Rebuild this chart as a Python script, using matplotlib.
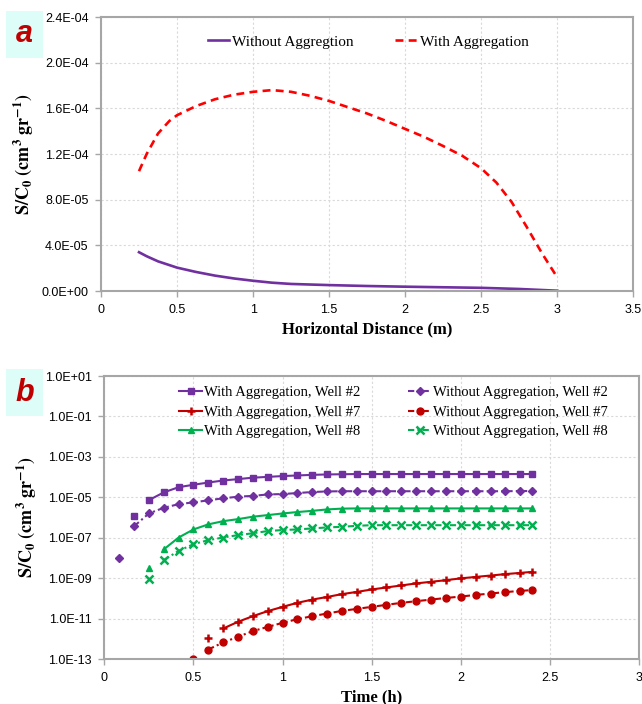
import matplotlib
matplotlib.use('Agg')
import matplotlib.pyplot as plt
from matplotlib.patches import FancyBboxPatch
import numpy as np

# ---- panel a data: S/C0 vs horizontal distance ----
dist_without = [0.25, 0.3, 0.375, 0.5, 0.625, 0.75, 0.875, 1.0, 1.125, 1.25, 1.5, 1.75,
                2.0, 2.25, 2.5, 2.75, 3.0]
sc_without = [3.4e-5, 3.05e-5, 2.6e-5, 2.05e-5, 1.67e-5, 1.35e-5, 1.1e-5, 9.0e-6,
              7.3e-6, 6.2e-6, 5.2e-6, 4.4e-6, 3.8e-6, 3.3e-6, 2.8e-6, 1.8e-6, 0.3e-6]
dist_with = [0.25, 0.3, 0.375, 0.45, 0.5, 0.625, 0.75, 0.875, 1.0, 1.125, 1.25, 1.375,
             1.5, 1.625, 1.75, 1.875, 2.0, 2.125, 2.25, 2.375, 2.5, 2.6, 2.7, 2.8, 2.9, 3.0]
sc_with = [1.05e-4, 1.2e-4, 1.38e-4, 1.49e-4, 1.54e-4, 1.62e-4, 1.68e-4, 1.72e-4,
           1.745e-4, 1.76e-4, 1.745e-4, 1.71e-4, 1.665e-4, 1.61e-4, 1.555e-4, 1.49e-4,
           1.42e-4, 1.35e-4, 1.27e-4, 1.185e-4, 1.075e-4, 9.5e-5, 7.8e-5, 5.6e-5,
           3.3e-5, 1.2e-5]

# ---- panel b data: log10(S/C0) vs time (h) ----
t_w2 = [0.167, 0.25, 0.333, 0.417, 0.5, 0.583, 0.667, 0.75, 0.833, 0.917, 1.0, 1.083,
        1.167, 1.25, 1.333, 1.417, 1.5, 1.583, 1.667, 1.75, 1.833, 1.917, 2.0, 2.083,
        2.167, 2.25, 2.333, 2.4]
log_w2 = [-5.92, -5.14, -4.76, -4.5, -4.38, -4.27, -4.17, -4.10, -4.03, -3.99, -3.95,
          -3.92, -3.89, -3.87, -3.86, -3.85, -3.85, -3.85, -3.85, -3.85, -3.85, -3.85,
          -3.85, -3.85, -3.85, -3.85, -3.85, -3.85]
t_wo2 = [0.083] + t_w2
log_wo2 = [-8.0, -6.43, -5.8, -5.52, -5.34, -5.25, -5.15, -5.05, -4.97, -4.93, -4.86,
           -4.84, -4.79, -4.74, -4.71, -4.70, -4.70, -4.70, -4.70, -4.70, -4.70, -4.70,
           -4.70, -4.70, -4.70, -4.70, -4.70, -4.69, -4.69]
t_w8 = t_w2[1:]
log_w8 = [-8.52, -7.58, -6.99, -6.59, -6.34, -6.18, -6.08, -5.96, -5.88, -5.80, -5.73,
          -5.67, -5.60, -5.56, -5.55, -5.55, -5.55, -5.55, -5.55, -5.55, -5.55, -5.55,
          -5.55, -5.55, -5.55, -5.55, -5.55]
t_wo8 = t_w2[1:]
log_wo8 = [-9.02, -8.11, -7.65, -7.32, -7.12, -6.99, -6.87, -6.78, -6.67, -6.62, -6.59,
           -6.54, -6.49, -6.46, -6.41, -6.38, -6.38, -6.38, -6.38, -6.38, -6.38, -6.38,
           -6.38, -6.38, -6.38, -6.38, -6.38]
t_w7 = t_w2[5:]
log_w7 = [-11.96, -11.49, -11.16, -10.88, -10.63, -10.42, -10.22, -10.06, -9.93, -9.79,
          -9.68, -9.56, -9.46, -9.36, -9.26, -9.18, -9.10, -9.01, -8.94, -8.87, -8.80,
          -8.74, -8.69]
t_wo7 = t_w2[4:]
log_wo7 = [-13.0, -12.53, -12.18, -11.9, -11.62, -11.41, -11.21, -11.03, -10.88, -10.75,
           -10.62, -10.52, -10.42, -10.32, -10.22, -10.14, -10.06, -9.98, -9.91, -9.83,
           -9.76, -9.69, -9.63, -9.59]

PURPLE = '#7030A0'
RED_A = '#FF0000'
RED_B = '#C00000'
GREEN = '#00B050'
SPINE = '#A6A6A6'

TICKFONT = 'Liberation Sans'
SERIF = 'Liberation Serif'
ylabel_txt = r'$\mathbf{S/C_0\ (cm^3\ gr^{-1})}$'


def style_axes(ax):
    for s in ax.spines.values():
        s.set_color(SPINE)
        s.set_linewidth(1.5)
    ax.tick_params(direction='out', length=4, width=1, color=SPINE,
                   labelsize=9, pad=5)
    for lab in ax.get_xticklabels() + ax.get_yticklabels():
        lab.set_fontfamily(TICKFONT)
    ax.grid(True, color='#D9D9D9', linestyle=(0, (2, 2)), linewidth=0.8)
    ax.set_axisbelow(True)


def panel_tag(fig, x, y, letter):
    fig.patches.append(FancyBboxPatch((x, y), 0.058, 0.067, boxstyle='square,pad=0',
                                      transform=fig.transFigure, facecolor='#DDFDF8',
                                      edgecolor='none'))
    fig.text(x + 0.029, y + 0.033, letter, ha='center', va='center', color=RED_B,
             fontsize=22, fontweight='bold', fontstyle='italic', family='Liberation Sans')


plt.rcParams['mathtext.fontset'] = 'stix'
fig = plt.figure(figsize=(6.42, 7.04), dpi=100)

# ---------------- panel a ----------------
ax1 = fig.add_axes([0.1573, 0.5866, 0.8291, 0.3892])
ax1.plot(dist_without, sc_without, color=PURPLE, lw=1.9, label='Without Aggregtion')
ax1.plot(dist_with, sc_with, color=RED_A, lw=1.9, linestyle=(0, (3, 2)),
         label='With Aggregation')
ax1.set_xlim(0, 3.5)
ax1.set_ylim(0, 2.4e-4)
ax1.set_xticks(np.arange(0, 3.51, 0.5))
ax1.set_xticklabels(['0', '0.5', '1', '1.5', '2', '2.5', '3', '3.5'])
ax1.set_yticks(np.arange(0, 2.41e-4, 4e-5))
ax1.set_yticklabels(['{:.1E}'.format(v) for v in np.arange(0, 2.41e-4, 4e-5)])
style_axes(ax1)
ax1.set_xlabel('Horizontal Distance (m)', family=SERIF, fontweight='bold',
               fontsize=12, labelpad=4)
ax1.set_ylabel(ylabel_txt, fontsize=13, labelpad=4)
ax1.legend(loc='upper left', bbox_to_anchor=(0.175, 0.985), ncol=2, frameon=False,
           prop={'family': SERIF, 'size': 11}, handlelength=1.4, handletextpad=0.2,
           columnspacing=2.7)

# ---------------- panel b ----------------
ax2 = fig.add_axes([0.1625, 0.0639, 0.8329, 0.402])
dashdot = (0, (3, 1.5, 1, 1.5))
series = [
    (t_w2, log_w2, PURPLE, 's', '-', 'With Aggregation, Well #2'),
    (t_w7, log_w7, RED_B, '+', '-', 'With Aggregation, Well #7'),
    (t_w8, log_w8, GREEN, '^', '-', 'With Aggregation, Well #8'),
    (t_wo2, log_wo2, PURPLE, 'D', dashdot, 'Without Aggregation, Well #2'),
    (t_wo7, log_wo7, RED_B, 'o', dashdot, 'Without Aggregation, Well #7'),
    (t_wo8, log_wo8, GREEN, 'x', dashdot, 'Without Aggregation, Well #8'),
]
handles = []
for t, lv, col, mk, ls, lab in series:
    vals = [10.0 ** v for v in lv]
    ms = 5.5 if mk in ('+', 'x') else 5
    mew = 1.8 if mk in ('+', 'x') else 1
    if mk == 'D':
        ms = 4.5
    # first point is drawn as an isolated marker (no connecting segment)
    ax2.plot(t[:1], vals[:1], linestyle='none', marker=mk, color=col, ms=ms, mew=mew)
    h, = ax2.plot(t[1:], vals[1:], linestyle=ls, marker=mk, color=col, ms=ms, mew=mew,
                  lw=1.5, label=lab)
    handles.append(h)
ax2.set_yscale('log')
ax2.set_xlim(0, 3)
ax2.set_ylim(1e-13, 1e1)
ax2.set_xticks(np.arange(0, 3.01, 0.5))
ax2.set_xticklabels(['0', '0.5', '1', '1.5', '2', '2.5', '3'])
yt = [10.0 ** e for e in range(-13, 2, 2)]
ax2.set_yticks(yt)
ax2.set_yticklabels(['1.0E{:+03d}'.format(e) for e in range(-13, 2, 2)])
ax2.yaxis.set_minor_locator(matplotlib.ticker.NullLocator())
style_axes(ax2)
ax2.set_xlabel('Time (h)', family=SERIF, fontweight='bold', fontsize=12, labelpad=4)
ax2.set_ylabel(ylabel_txt, fontsize=13, labelpad=4)
ax2.legend(handles=handles, loc='upper left', bbox_to_anchor=(0.115, 1.012), ncol=2,
           frameon=False, prop={'family': SERIF, 'size': 10.5}, handlelength=1.6,
           handletextpad=0.1, columnspacing=3.3, labelspacing=0.45)

panel_tag(fig, 0.009, 0.918, 'a')
panel_tag(fig, 0.009, 0.409, 'b')

fig.savefig('out.png', dpi=100)
